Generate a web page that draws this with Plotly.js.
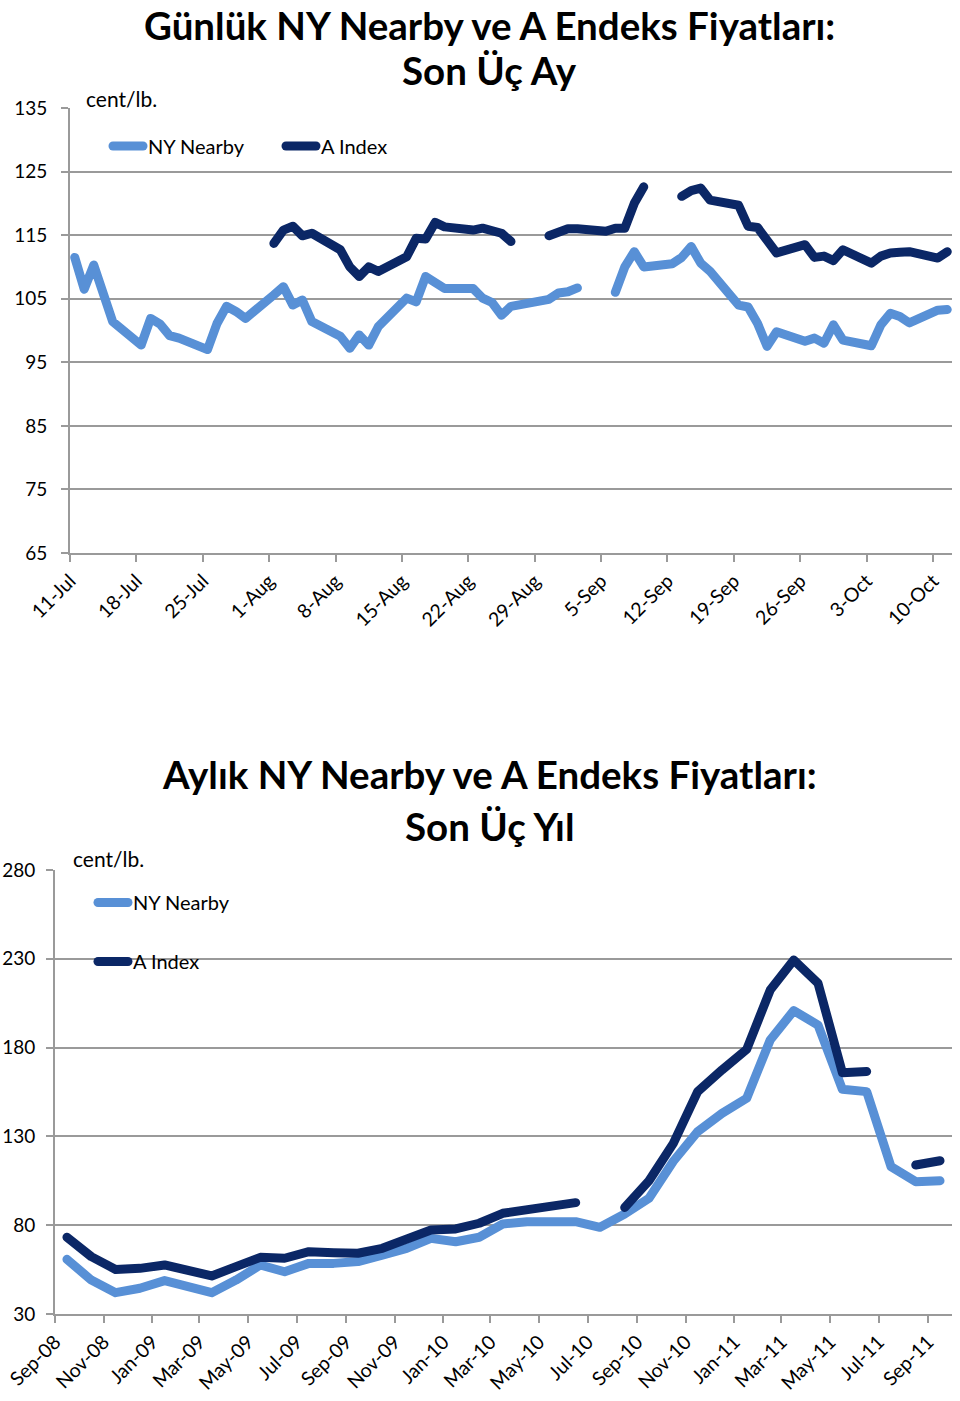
<!DOCTYPE html>
<html>
<head>
<meta charset="utf-8">
<script src="https://cdn.plot.ly/plotly-3.0.1.min.js"></script>
<style>
  html, body { margin: 0; padding: 0; background: #fff; }
  #chart { width: 960px; height: 1401px; }
  .js-line { stroke-linecap: round; stroke-linejoin: round; }
</style>
</head>
<body>
<div id="chart"></div>
<script>
// ---------- Daily chart (last three months) ----------
const dailyDates = [
  '2011-07-11','2011-07-12','2011-07-13','2011-07-14','2011-07-15',
  '2011-07-18','2011-07-19','2011-07-20','2011-07-21','2011-07-22',
  '2011-07-25','2011-07-26','2011-07-27','2011-07-28','2011-07-29',
  '2011-08-01','2011-08-02','2011-08-03','2011-08-04','2011-08-05',
  '2011-08-08','2011-08-09','2011-08-10','2011-08-11','2011-08-12',
  '2011-08-15','2011-08-16','2011-08-17','2011-08-18','2011-08-19',
  '2011-08-22','2011-08-23','2011-08-24','2011-08-25','2011-08-26',
  '2011-08-29','2011-08-30','2011-08-31','2011-09-01','2011-09-02',
  '2011-09-05','2011-09-06','2011-09-07','2011-09-08','2011-09-09',
  '2011-09-12','2011-09-13','2011-09-14','2011-09-15','2011-09-16',
  '2011-09-19','2011-09-20','2011-09-21','2011-09-22','2011-09-23',
  '2011-09-26','2011-09-27','2011-09-28','2011-09-29','2011-09-30',
  '2011-10-03','2011-10-04','2011-10-05','2011-10-06','2011-10-07',
  '2011-10-10','2011-10-11'
];
const dailyNYNearby = [
  111.5,106.5,110.3,105.5,101.4,
  97.7,101.9,101.0,99.2,98.8,
  97.0,101.1,103.8,103.0,101.9,
  105.6,106.9,104.0,104.8,101.4,
  99.1,97.2,99.3,97.7,100.6,
  105.1,104.5,108.5,107.4,106.6,
  106.6,105.1,104.4,102.4,103.8,
  104.5,104.9,105.9,106.1,106.7,
  null,106.0,110.0,112.4,110.0,
  110.5,111.5,113.2,110.6,109.3,
  104.0,103.7,101.1,97.5,99.8,
  98.3,98.8,98.0,100.9,98.5,
  97.6,100.9,102.7,102.2,101.2,
  103.2,103.3
];
const dailyAIndex = [
  null,null,null,null,null,
  null,null,null,null,null,
  null,null,null,null,null,
  113.7,115.8,116.4,114.9,115.3,
  112.7,110.0,108.5,110.0,109.3,
  111.6,114.5,114.4,117.0,116.3,
  115.8,116.1,115.6,115.3,114.0,
  null,114.9,115.6,116.0,116.0,
  115.6,116.1,116.1,120.0,122.6,
  null,121.1,122.0,122.4,120.5,
  119.7,116.4,116.2,114.0,112.2,
  113.5,111.5,111.7,111.0,112.7,
  110.6,111.7,112.2,112.3,112.4,
  111.4,112.4
];

// ---------- Monthly chart (last three years) ----------
const monthlyDates = [
  '2008-09-01','2008-10-01','2008-11-01','2008-12-01',
  '2009-01-01','2009-02-01','2009-03-01','2009-04-01','2009-05-01','2009-06-01',
  '2009-07-01','2009-08-01','2009-09-01','2009-10-01','2009-11-01','2009-12-01',
  '2010-01-01','2010-02-01','2010-03-01','2010-04-01','2010-05-01','2010-06-01',
  '2010-07-01','2010-08-01','2010-09-01','2010-10-01','2010-11-01','2010-12-01',
  '2011-01-01','2011-02-01','2011-03-01','2011-04-01','2011-05-01','2011-06-01',
  '2011-07-01','2011-08-01','2011-09-01'
];
const monthlyNYNearby = [
  60.8,49.1,42.0,44.5,
  48.8,45.4,42.0,49.1,57.6,53.8,
  58.5,58.5,59.5,63.2,67.0,72.6,
  70.7,73.2,80.7,82.0,82.0,82.0,
  78.8,86.3,95.2,116.0,132.7,143.0,
  151.5,184.3,200.8,192.7,156.5,155.2,
  113.0,104.5,105.0
];
const monthlyAIndex = [
  73.2,62.3,55.1,55.7,
  57.6,54.8,51.4,56.7,61.9,61.4,
  65.1,64.5,64.2,67.0,71.7,77.3,
  77.9,81.1,86.7,88.6,90.8,92.7,
  null,90.0,105.0,126.1,155.2,167.4,
  179.0,212.4,229.3,216.2,165.9,166.5,
  null,113.9,116.3
];

const seriesNames = ['NY Nearby', 'A Index'];
const titleTop = ['Günlük NY Nearby ve A Endeks Fiyatları:', 'Son Üç Ay'];
const titleBottom = ['Aylık NY Nearby ve A Endeks Fiyatları:', 'Son Üç Yıl'];
const unitLabel = 'cent/lb.';

// ---------- styling ----------
const FONT = 'Lato, "Open Sans", sans-serif';
const C_NY = '#5890D6';
const C_A = '#0B2766';
const GRID = '#9a9a9a';
const LW = 9;
const W = 960, H = 1401;
const px = v => v / W;
const py = v => 1 - v / H;

const DAY = 86400000;

const traces = [
  { x: dailyDates, y: dailyNYNearby, name: seriesNames[0], type: 'scatter', mode: 'lines',
    xperiod: DAY, xperiodalignment: 'middle', connectgaps: false,
    line: { color: C_NY, width: LW }, xaxis: 'x', yaxis: 'y', legend: 'legend' },
  { x: dailyDates, y: dailyAIndex, name: seriesNames[1], type: 'scatter', mode: 'lines',
    xperiod: DAY, xperiodalignment: 'middle', connectgaps: false,
    line: { color: C_A, width: LW }, xaxis: 'x', yaxis: 'y', legend: 'legend' },
  { x: monthlyDates, y: monthlyNYNearby, name: seriesNames[0], type: 'scatter', mode: 'lines',
    xperiod: 'M1', xperiodalignment: 'middle', connectgaps: false,
    line: { color: C_NY, width: LW }, xaxis: 'x2', yaxis: 'y2', legend: 'legend2', legendgroup: 'g1' },
  { x: monthlyDates, y: monthlyAIndex, name: seriesNames[1], type: 'scatter', mode: 'lines',
    xperiod: 'M1', xperiodalignment: 'middle', connectgaps: false,
    line: { color: C_A, width: LW }, xaxis: 'x2', yaxis: 'y2', legend: 'legend2', legendgroup: 'g2' }
];

const axisCommon = {
  showline: true, linecolor: GRID, linewidth: 2,
  ticks: 'outside', ticklen: 7, tickwidth: 2, tickcolor: GRID,
  tickfont: { family: FONT, size: 19.5, color: '#000' },
  zeroline: false, fixedrange: true
};
const yTickFont = { family: FONT, size: 19, color: '#000' };

const titleFont = { family: FONT, size: 38.5, weight: 700, color: '#000' };

const layout = {
  width: W, height: H,
  margin: { l: 0, r: 0, t: 0, b: 0 },
  paper_bgcolor: '#fff', plot_bgcolor: '#fff',
  font: { family: FONT, color: '#000' },
  xaxis: Object.assign({}, axisCommon, {
    domain: [px(70), px(952)], anchor: 'y', type: 'date',
    range: ['2011-07-11', '2011-10-12'],
    tick0: '2011-07-11', dtick: 7 * DAY, tickformat: '%-d-%b',
    tickangle: -45, showgrid: false
  }),
  yaxis: Object.assign({}, axisCommon, {
    domain: [py(553), py(108)], anchor: 'x',
    range: [65, 135], tick0: 65, dtick: 10, tickfont: yTickFont,
    showgrid: true, gridcolor: GRID, gridwidth: 2, ticklabelstandoff: 10
  }),
  xaxis2: Object.assign({}, axisCommon, {
    domain: [px(55), px(952)], anchor: 'y2', type: 'date',
    range: ['2008-09-01', '2011-10-01'],
    tick0: '2008-09-01', dtick: 'M2', tickformat: '%b-%y',
    tickangle: -45, showgrid: false
  }),
  yaxis2: Object.assign({}, axisCommon, {
    domain: [py(1314), py(870)], anchor: 'x2',
    range: [30, 280], tick0: 30, dtick: 50, tickfont: yTickFont,
    showgrid: true, gridcolor: GRID, gridwidth: 2, ticklabelstandoff: 7
  }),
  legend: {
    orientation: 'h', x: px(108), y: py(146), xanchor: 'left', yanchor: 'middle',
    font: { family: FONT, size: 20, color: '#000' }, bgcolor: 'rgba(0,0,0,0)',
    entrywidth: 128
  },
  legend2: {
    orientation: 'v', x: px(93), y: py(932), xanchor: 'left', yanchor: 'middle',
    font: { family: FONT, size: 20, color: '#000' }, bgcolor: 'rgba(0,0,0,0)',
    tracegroupgap: 30
  },
  annotations: [
    { text: titleTop[0], x: px(490), y: 1, xref: 'paper', yref: 'paper', showarrow: false,
      xanchor: 'center', yanchor: 'top', font: titleFont },
    { text: titleTop[1], x: px(490), y: py(70), xref: 'paper', yref: 'paper', showarrow: false,
      xanchor: 'center', yanchor: 'middle', font: titleFont },
    { text: titleBottom[0], x: px(490), y: py(774), xref: 'paper', yref: 'paper', showarrow: false,
      xanchor: 'center', yanchor: 'middle', font: titleFont },
    { text: titleBottom[1], x: px(490), y: py(826), xref: 'paper', yref: 'paper', showarrow: false,
      xanchor: 'center', yanchor: 'middle', font: titleFont },
    { text: unitLabel, x: px(84), y: py(98), xref: 'paper', yref: 'paper', showarrow: false,
      xanchor: 'left', yanchor: 'middle', font: { family: FONT, size: 21, color: '#000' } },
    { text: unitLabel, x: px(71), y: py(858), xref: 'paper', yref: 'paper', showarrow: false,
      xanchor: 'left', yanchor: 'middle', font: { family: FONT, size: 21, color: '#000' } }
  ]
};

Plotly.newPlot('chart', traces, layout, { staticPlot: true, displayModeBar: false });
</script>
</body>
</html>
